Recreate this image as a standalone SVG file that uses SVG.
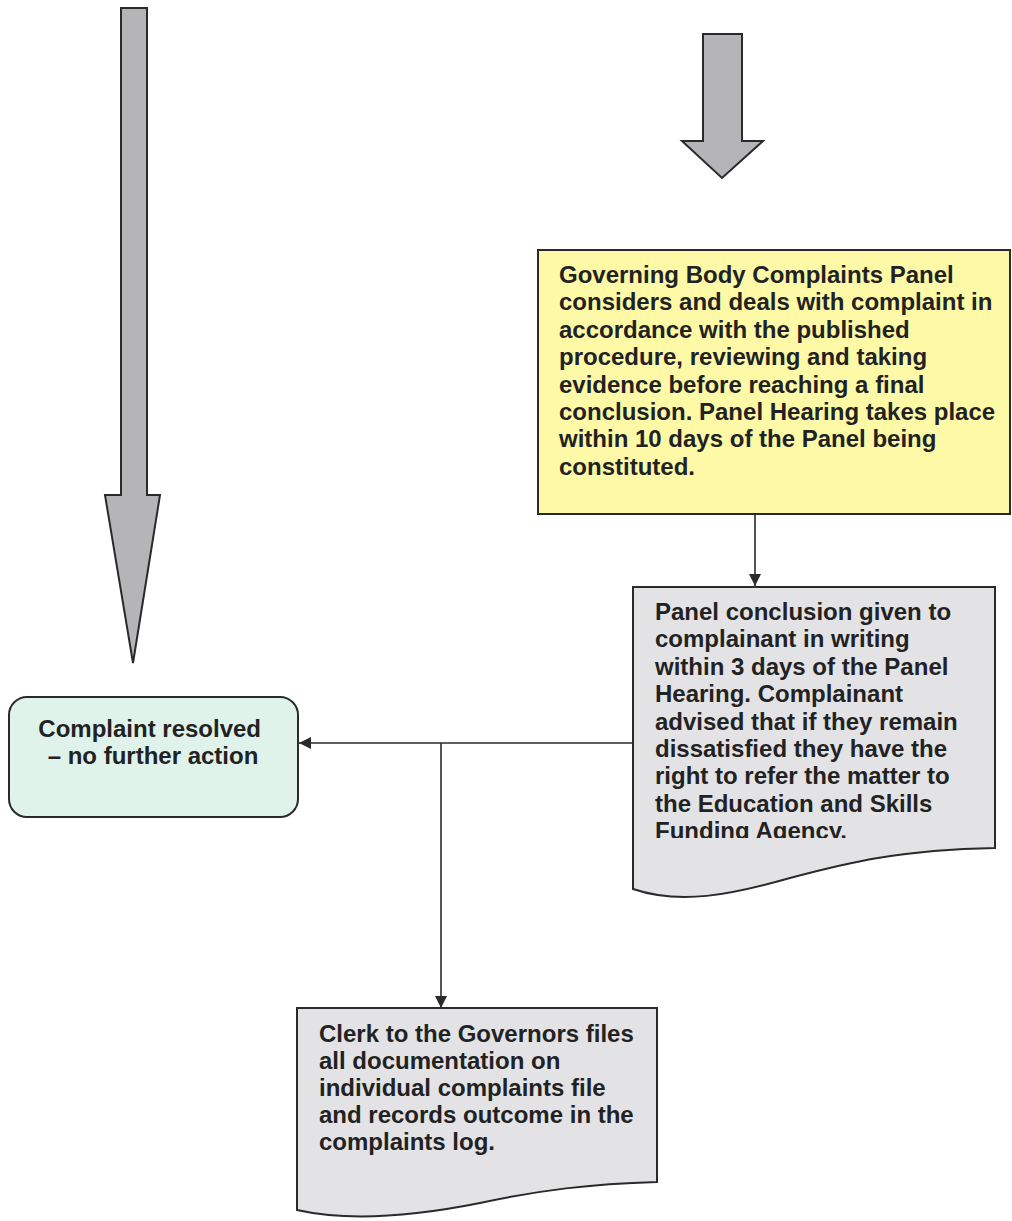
<svg xmlns="http://www.w3.org/2000/svg" width="1012" height="1221" viewBox="0 0 1012 1221">
  <style>
    .t { font-family: "Liberation Sans", Arial, sans-serif; font-weight: bold; font-size: 24px; fill: #222; }
    .big { fill: #b5b5b7; stroke: #2a2a2a; stroke-width: 2; stroke-linejoin: miter; }
    .box { stroke: #2a2a2a; stroke-width: 2; }
    .conn { stroke: #2a2a2a; stroke-width: 1.6; fill: none; }
  </style>
  <defs>
    <marker id="ah" viewBox="0 0 10 10" refX="10" refY="5" markerWidth="14" markerHeight="12" markerUnits="userSpaceOnUse" orient="auto">
      <path d="M0,0 L10,5 L0,10 z" fill="#2a2a2a"/>
    </marker>
    <clipPath id="clipG">
      <rect x="633" y="587" width="362" height="251"/>
    </clipPath>
  </defs>
  <rect width="1012" height="1221" fill="#ffffff"/>

  <g id="arrow-left">
    <path class="big" d="M121,8 L147,8 L147,495 L160,495 L133,663 L105,495 L121,495 Z"/>
  </g>
  <g id="arrow-right">
    <path class="big" d="M703,34 L742,34 L742,141 L763,141 L722,178 L682,141 L703,141 Z"/>
  </g>

  <g id="connectors">
    <line class="conn" x1="755" y1="514" x2="755" y2="586" marker-end="url(#ah)"/>
    <line class="conn" x1="633" y1="743" x2="299" y2="743" marker-end="url(#ah)"/>
    <line class="conn" x1="441" y1="743" x2="441" y2="1008" marker-end="url(#ah)"/>
  </g>

  <g id="panel">
    <rect class="box" x="538" y="250" width="472" height="264" fill="#fdf9a6"/>
    <text class="t" x="559">
      <tspan x="559" y="283">Governing Body Complaints Panel</tspan>
      <tspan x="559" y="310.4">considers and deals with complaint in</tspan>
      <tspan x="559" y="337.8">accordance with the published</tspan>
      <tspan x="559" y="365.2">procedure, reviewing and taking</tspan>
      <tspan x="559" y="392.6">evidence before reaching a final</tspan>
      <tspan x="559" y="420">conclusion. Panel Hearing takes place</tspan>
      <tspan x="559" y="447.4">within 10 days of the Panel being</tspan>
      <tspan x="559" y="474.8">constituted.</tspan>
    </text>
  </g>

  <g id="conclusion">
    <path class="box" fill="#e3e3e6" d="M633,587 L995,587 L995,848 C900,850 850,862 790,878 C730,895 680,905 633,889 Z"/>
    <text class="t" clip-path="url(#clipG)">
      <tspan x="655" y="620">Panel conclusion given to</tspan>
      <tspan x="655" y="647.4">complainant in writing</tspan>
      <tspan x="655" y="674.8">within 3 days of the Panel</tspan>
      <tspan x="655" y="702.2">Hearing. Complainant</tspan>
      <tspan x="655" y="729.6">advised that if they remain</tspan>
      <tspan x="655" y="757">dissatisfied they have the</tspan>
      <tspan x="655" y="784.4">right to refer the matter to</tspan>
      <tspan x="655" y="811.8">the Education and Skills</tspan>
      <tspan x="655" y="839.2">Funding Agency.</tspan>
    </text>
  </g>

  <g id="resolved">
    <rect class="box" x="9" y="697" width="289" height="120" rx="18" ry="18" fill="#dff3ea"/>
    <text class="t" text-anchor="middle">
      <tspan x="153" y="737">Complaint resolved</tspan>
      <tspan x="153" y="764">– no further action</tspan>
    </text>
  </g>

  <g id="clerk">
    <path class="box" fill="#e3e3e6" d="M297,1008 L657,1008 L657,1182 C590,1184 540,1190 480,1203 C420,1215 350,1222 297,1210 Z"/>
    <text class="t">
      <tspan x="319" y="1042">Clerk to the Governors files</tspan>
      <tspan x="319" y="1069">all documentation on</tspan>
      <tspan x="319" y="1096">individual complaints file</tspan>
      <tspan x="319" y="1123">and records outcome in the</tspan>
      <tspan x="319" y="1150">complaints log.</tspan>
    </text>
  </g>
</svg>
